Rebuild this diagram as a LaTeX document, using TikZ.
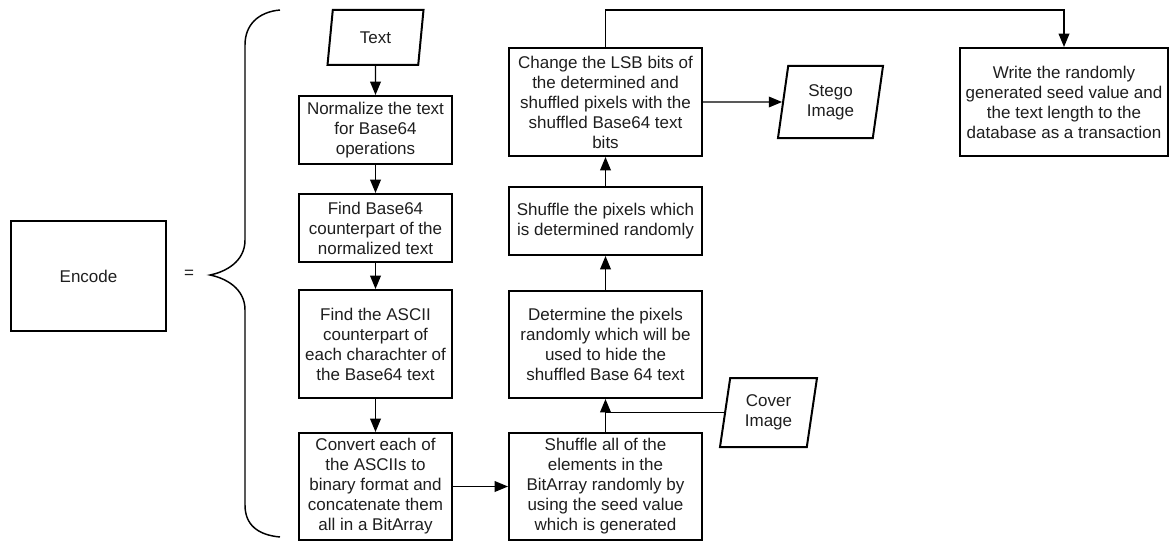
\documentclass[tikz,border=0pt]{standalone}
\usepackage{fontspec}
\setmainfont{Liberation Sans}
\usetikzlibrary{arrows.meta, positioning}
\usetikzlibrary{shapes.geometric}

\definecolor{inkgray}{RGB}{30,30,30}
\tikzset{
  labelfont/.style={font=\fontsize{12.75}{15}\selectfont, text=inkgray},
  procbox/.style={draw, line width=1.5pt, align=center, inner sep=2pt, labelfont},
  iobox/.style={draw, line width=1.5pt, trapezium, trapezium left angle=#1, trapezium right angle=180-#1,
    trapezium stretches body, align=center, inner sep=1pt, labelfont},
  flowline/.style={line width=1.1pt, -{Triangle[length=10pt,width=8pt]}},
  plainline/.style={line width=1.1pt}
}

\begin{document}
\begin{tikzpicture}[x=0.75pt,y=0.75pt,yscale=-1,xscale=1]
\useasboundingbox (0,0) rectangle (1170,542);

%Shape: Rectangle
\node [procbox, minimum width=116.25pt, minimum height=82.5pt] (encode) at (88.5,276) {Encode};
% Text Node
\node [labelfont] (equals) at (189,274) {=};
%Shape: Brace
\draw [line width=1.1pt] (280,10) .. controls (258,12) and (245,25) .. (245,45) -- (245,240) .. controls (245,262) and (225,272) .. (210,275) .. controls (225,278) and (245,288) .. (245,310) -- (245,505) .. controls (245,525) and (258,535) .. (280,537);

%Left column
\node [iobox=70, minimum width=72pt, minimum height=41.25pt] (text) at (375.5,37.5) {Text};
\node [procbox, minimum width=114.75pt, minimum height=51pt] (normalize) at (375.5,130) {Normalize the text\\for Base64\\operations};
\node [procbox, minimum width=114.75pt, minimum height=51pt] (findbase) at (375.5,228) {Find Base64\\counterpart of the\\normalized text};
\node [procbox, minimum width=114.75pt, minimum height=81pt] (findascii) at (375.5,344) {Find the ASCII\\counterpart of\\each charachter of\\the Base64 text};
\node [procbox, minimum width=114.75pt, minimum height=80.25pt] (convert) at (375.5,486.5) {Convert each of\\the ASCIIs to\\binary format and\\concatenate them\\all in a BitArray};

%Right column
\node [procbox, minimum width=144.75pt, minimum height=80.25pt] (shuffleall) at (605.5,486.5) {Shuffle all of the\\elements in the\\BitArray randomly by\\using the seed value\\which is generated};
\node [procbox, minimum width=144.75pt, minimum height=80.25pt] (determine) at (605.5,344.5) {Determine the pixels\\randomly which will be\\used to hide the\\shuffled Base 64 text};
\node [procbox, minimum width=144.75pt, minimum height=51pt] (shufflepix) at (605.5,221) {Shuffle the pixels which\\is determined randomly};
\node [procbox, minimum width=144.75pt, minimum height=81pt] (changelsb) at (605.5,102) {Change the LSB bits of\\the determined and\\shuffled pixels with the\\shuffled Base64 text\\bits};

%Inputs and outputs
\node [iobox=75, minimum width=78.75pt, minimum height=54pt] (stego) at (830.5,102) {Stego\\Image};
\node [iobox=75, minimum width=72.75pt, minimum height=51.75pt] (cover) at (768.5,412.5) {Cover\\Image};
\node [procbox, minimum width=156pt, minimum height=81pt] (writedb) at (1064,102) {Write the randomly\\generated seed value and\\the text length to the\\database as a transaction};
\coordinate (topbend) at (605.5,10);

%Connectors
\draw [flowline] (text) -- (normalize);
\draw [flowline] (normalize) -- (findbase);
\draw [flowline] (findbase) -- (findascii);
\draw [flowline] (findascii) -- (convert);
\draw [flowline] (convert) -- (shuffleall);
\draw [flowline] (shuffleall) -- (determine);
\draw [plainline] (cover.west) -- (cover.west -| determine.south);
\draw [flowline] (determine) -- (shufflepix);
\draw [flowline] (shufflepix) -- (changelsb);
\draw [flowline] (changelsb) -- (stego);
\draw [flowline] (changelsb.north) -- (topbend) -| (writedb.north);

\end{tikzpicture}
\end{document}
